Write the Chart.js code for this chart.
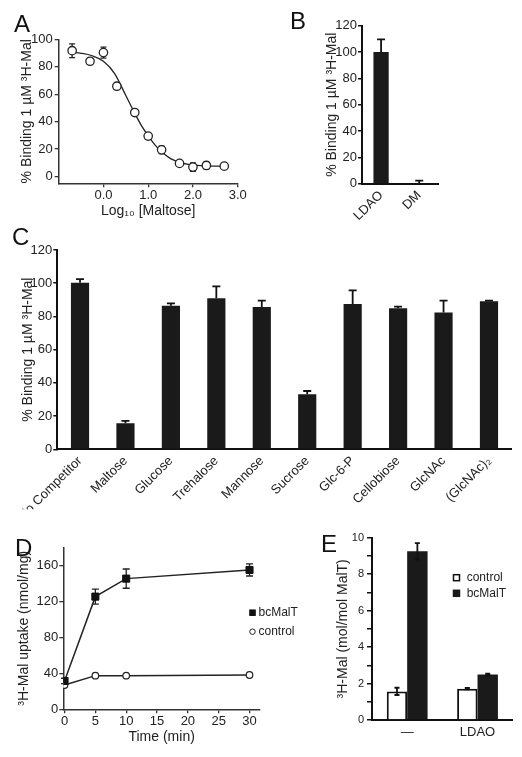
<!DOCTYPE html>
<html>
<head>
<meta charset="utf-8">
<script src="https://cdn.jsdelivr.net/npm/chart.js@4/dist/chart.umd.min.js"></script>
<style>
html,body{margin:0;padding:0;background:#fff;}
#wrap{position:relative;width:522px;height:757px;overflow:hidden;background:#fff;}
#wrap canvas{position:absolute;left:0;top:0;}
.lt{position:absolute;font-family:"Liberation Sans",Arial,Helvetica,sans-serif;font-size:24px;line-height:24px;color:#111;}
</style>
</head>
<body>
<div id="wrap">
<canvas id="cA" width="522" height="757"></canvas>
<canvas id="cB" width="522" height="757"></canvas>
<canvas id="cC" width="522" height="757"></canvas>
<canvas id="cD" width="522" height="757"></canvas>
<canvas id="cE" width="522" height="757"></canvas>
<div class="lt" style="left:14px;top:12px">A</div>
<div class="lt" style="left:290px;top:9px">B</div>
<div class="lt" style="left:12px;top:225px">C</div>
<div class="lt" style="left:15px;top:536px">D</div>
<div class="lt" style="left:321px;top:532px">E</div>
</div>
<script>
// ---------- Panel A ----------
const logMaltose = [-0.7, -0.3, 0.0, 0.3, 0.7, 1.0, 1.3, 1.7, 2.0, 2.3, 2.7];
const bindingA = [91.7, 84, 90.3, 65.8, 46.6, 29.4, 19.4, 9.5, 6.8, 8, 7.5];
const bindingAErr = [5, 2, 4, 1, 1, 2, 2.7, 1, 3, 2.4, 1];
const fitLogX = [-0.7, -0.5, -0.25, 0.0, 0.25, 0.5, 0.7, 0.85, 1.0, 1.15, 1.3, 1.5, 1.7, 1.9, 2.2, 2.7];
const fitBinding = [90.5, 89.8, 88, 84, 75, 59, 46, 37, 29.5, 23, 18, 13, 10.3, 8.8, 7.9, 7.4];
const yTicksA = [0, 20, 40, 60, 80, 100];
const xTicksA = [0, 1, 2, 3];
const xTickLabelsA = ['0.0', '1.0', '2.0', '3.0'];

// ---------- Panel B ----------
const detergentsB = ['LDAO', 'DM'];
const bindingB = [100, 0.5];
const bindingBErr = [9.6, 1.8];
const yTicksB = [0, 20, 40, 60, 80, 100, 120];

// ---------- Panel C ----------
const competitorsC = ['No Competitor', 'Maltose', 'Glucose', 'Trehalose', 'Mannose', 'Sucrose', 'Glc-6-P', 'Cellobiose', 'GlcNAc', '(GlcNAc)\u2082'];
const bindingC = [100.3, 15.7, 86.5, 90.9, 85.7, 33.1, 87.5, 84.9, 82.3, 89.1];
const bindingCErr = [2.2, 1.4, 1.4, 7.2, 3.8, 2.0, 8.2, 1.0, 7.2, 0.4];
const yTicksC = [0, 20, 40, 60, 80, 100, 120];

// ---------- Panel D ----------
const timeMin = [0, 5, 10, 30];
const uptakeBcMalT = [31.5, 125.2, 145.2, 154.8];
const uptakeBcMalTErr = [3, 8.3, 10.7, 6.7];
const uptakeControl = [27, 37.4, 37.4, 38.1];
const uptakeControlErr = [0, 0, 0, 0];
const yTicksD = [0, 40, 80, 120, 160];
const xTicksD = [0, 5, 10, 15, 20, 25, 30];

// ---------- Panel E ----------
const conditionsE = ['\u2014', 'LDAO'];
const malControl = [1.57, 1.72];
const malControlErr = [0.2, 0.04];
const malBcMalT = [9.25, 2.49];
const malBcMalTErr = [0.45, 0.05];
const yTicksE = [0, 1, 2, 3, 4, 5, 6, 7, 8, 9, 10];
const yTickLabelsE = ['0', '', '2', '', '4', '', '6', '', '8', '', '10'];

// ---------- helpers ----------
const FONT = '"Liberation Sans", Arial, Helvetica, sans-serif';
const INK = '#222';
const W = 522, H = 757;

const errorBars = {
  id: 'errorBars',
  defaults: { after: true, up: false, cap: 4, width: 1.5, color: '#111' },
  beforeDatasetsDraw(chart, args, o) { if (!o.after) drawErr(chart, o); },
  afterDatasetsDraw(chart, args, o) { if (o.after) drawErr(chart, o); }
};
function drawErr(chart, o) {
  const ctx = chart.ctx;
  chart.data.datasets.forEach((ds, di) => {
    if (!ds.errors) return;
    const meta = chart.getDatasetMeta(di);
    const ys = chart.scales[meta.yAxisID];
    ctx.save();
    ctx.strokeStyle = o.color;
    ctx.lineWidth = o.width;
    meta.data.forEach((el, i) => {
      const e = ds.errors[i];
      if (!e) return;
      const raw = ds.data[i];
      const v = (typeof raw === 'object') ? raw.y : raw;
      const x = el.x;
      const yT = ys.getPixelForValue(v + e);
      const yB = o.up ? ys.getPixelForValue(v) : ys.getPixelForValue(v - e);
      const c = o.cap;
      ctx.beginPath();
      ctx.moveTo(x, yT); ctx.lineTo(x, yB);
      ctx.moveTo(x - c, yT); ctx.lineTo(x + c, yT);
      if (!o.up) { ctx.moveTo(x - c, yB); ctx.lineTo(x + c, yB); }
      ctx.stroke();
    });
    ctx.restore();
  });
}

const miniLegend = {
  id: 'miniLegend',
  defaults: { show: false },
  afterDraw(chart, args, o) {
    if (!o.show) return;
    const ctx = chart.ctx;
    ctx.save();
    ctx.font = o.size + 'px ' + FONT;
    ctx.textBaseline = 'middle';
    ctx.textAlign = 'left';
    chart.data.datasets.forEach((ds, k) => {
      const y = o.y + k * o.gap;
      const s = o.marker;
      const fill = ds.pointBackgroundColor || ds.backgroundColor;
      const stroke = ds.pointBorderColor || ds.borderColor;
      ctx.lineWidth = o.markerLine;
      ctx.fillStyle = fill;
      ctx.strokeStyle = stroke;
      if (ds.pointStyle === 'circle') {
        ctx.beginPath(); ctx.arc(o.x, y, s / 2, 0, Math.PI * 2); ctx.fill(); ctx.stroke();
      } else {
        ctx.fillRect(o.x - s / 2, y - s / 2, s, s);
        ctx.strokeRect(o.x - s / 2, y - s / 2, s, s);
      }
      ctx.fillStyle = INK;
      ctx.fillText(ds.label, o.textX, y);
    });
    ctx.restore();
  }
};
Chart.register(errorBars, miniLegend);

function pad(area, yW, xH) {
  return { left: area.l - yW, top: area.t, right: W - area.r, bottom: H - area.b - xH };
}
function yAxis(o) {
  const lh = o.titleSize * 1.2;
  return {
    type: 'linear', position: 'left', min: o.min, max: o.max,
    afterBuildTicks: s => { s.ticks = o.ticks.map(v => ({ value: v })); },
    afterFit: s => { s.width = o.width; },
    ticks: { font: { family: FONT, size: o.tickSize }, color: INK, padding: o.pad, callback: o.cb || (v => String(v)) },
    grid: { display: true, drawOnChartArea: false, drawTicks: true, tickLength: o.tl, color: o.line, lineWidth: o.lw },
    border: { display: true, color: o.line, width: o.bw },
    title: { display: true, text: o.title, font: { family: FONT, size: o.titleSize }, color: INK,
             padding: { top: o.titleX - (o.areaL - o.width) - lh / 2, bottom: 0 } }
  };
}
const base = {
  responsive: false, animation: false, devicePixelRatio: 1,
  events: []
};

// ---------- Chart A ----------
const areaA = { l: 58.7, t: 39.3, r: 237.7, b: 183.3 };
new Chart(document.getElementById('cA'), {
  type: 'scatter',
  data: {
    datasets: [
      { label: 'binding', data: logMaltose.map((x, i) => ({ x: x, y: bindingA[i] })), errors: bindingAErr,
        pointStyle: 'circle', pointRadius: 4.2, pointBorderWidth: 1.3, pointBackgroundColor: '#fff',
        pointBorderColor: '#222', showLine: false },
      { label: 'fit', data: fitLogX.map((x, i) => ({ x: x, y: fitBinding[i] })), showLine: true,
        pointRadius: 0, borderColor: '#222', borderWidth: 1.3, cubicInterpolationMode: 'monotone', fill: false }
    ]
  },
  options: Object.assign({}, base, {
    layout: { padding: pad(areaA, 58.7, 40) },
    plugins: { legend: { display: false }, tooltip: { enabled: false },
               errorBars: { after: false, cap: 3, width: 1.3, color: '#222' } },
    scales: {
      x: {
        type: 'linear', position: 'bottom', min: -1, max: 3,
        afterBuildTicks: s => { s.ticks = xTicksA.map(v => ({ value: v })); },
        afterFit: s => { s.height = 40; },
        ticks: { font: { family: FONT, size: 13 }, color: INK, padding: 0,
                 callback: v => xTickLabelsA[xTicksA.indexOf(v)] },
        grid: { display: true, drawOnChartArea: false, drawTicks: true, tickLength: 4, color: '#333', lineWidth: 1.3 },
        border: { display: true, color: '#333', width: 1.5 },
        title: { display: true, text: 'Log\u2081\u2080 [Maltose]', font: { family: FONT, size: 14 }, color: INK,
                 padding: { top: 0, bottom: (183.3 + 40) - 211 - 8.4 } }
      },
      y: yAxis({ min: -5, max: 100, ticks: yTicksA, width: 58.7, areaL: 58.7, tickSize: 13, pad: 2, tl: 4,
                 line: '#333', lw: 1.3, bw: 1.5, title: '% Binding 1 \u00b5M \u00b3H-Mal', titleSize: 14, titleX: 26.7 })
    }
  })
});

// ---------- Chart B ----------
const areaB = { l: 362, t: 25.7, r: 438.3, b: 183.7 };
new Chart(document.getElementById('cB'), {
  type: 'bar',
  data: {
    labels: detergentsB,
    datasets: [{ label: 'binding', data: bindingB, errors: bindingBErr, backgroundColor: '#1a1a1a',
                 borderWidth: 0, barPercentage: 0.4, categoryPercentage: 1 }]
  },
  options: Object.assign({}, base, {
    layout: { padding: pad(areaB, 45, 40) },
    plugins: { legend: { display: false }, tooltip: { enabled: false },
               errorBars: { after: true, up: true, cap: 4, width: 1.8, color: '#111' } },
    scales: {
      x: {
        type: 'category', position: 'bottom',
        afterFit: s => { s.height = 40; },
        ticks: { font: { family: FONT, size: 13 }, color: INK, padding: 4, minRotation: 45, maxRotation: 45, autoSkip: false },
        grid: { display: false, drawTicks: false },
        border: { display: true, color: '#111', width: 2 }
      },
      y: yAxis({ min: 0, max: 120, ticks: yTicksB, width: 45, areaL: 362, tickSize: 13, pad: 1, tl: 4,
                 line: '#111', lw: 1.5, bw: 2, title: '% Binding 1 \u00b5M \u00b3H-Mal', titleSize: 14, titleX: 331.7 })
    }
  })
});

// ---------- Chart C ----------
const areaC = { l: 57.3, t: 250, r: 511.7, b: 449.3 };
new Chart(document.getElementById('cC'), {
  type: 'bar',
  data: {
    labels: competitorsC,
    datasets: [{ label: 'binding', data: bindingC, errors: bindingCErr, backgroundColor: '#1a1a1a',
                 borderWidth: 0, barPercentage: 0.4, categoryPercentage: 1 }]
  },
  options: Object.assign({}, base, {
    layout: { padding: pad(areaC, 57.3, 60) },
    plugins: { legend: { display: false }, tooltip: { enabled: false },
               errorBars: { after: true, up: true, cap: 4, width: 1.8, color: '#111' } },
    scales: {
      x: {
        type: 'category', position: 'bottom',
        afterFit: s => { s.height = 60; },
        ticks: { font: { family: FONT, size: 13 }, color: INK, padding: 4, minRotation: 45, maxRotation: 45, autoSkip: false },
        grid: { display: false, drawTicks: false },
        border: { display: true, color: '#111', width: 2 }
      },
      y: yAxis({ min: 0, max: 120, ticks: yTicksC, width: 57.3, areaL: 57.3, tickSize: 13, pad: 1, tl: 4,
                 line: '#111', lw: 1.5, bw: 2, title: '% Binding 1 \u00b5M \u00b3H-Mal', titleSize: 14, titleX: 28.3 })
    }
  })
});

// ---------- Chart D ----------
const areaD = { l: 63.3, t: 547.3, r: 260, b: 709.3 };
new Chart(document.getElementById('cD'), {
  type: 'scatter',
  data: {
    datasets: [
      { label: 'bcMalT', data: timeMin.map((t, i) => ({ x: t, y: uptakeBcMalT[i] })), errors: uptakeBcMalTErr,
        showLine: true, pointStyle: 'rect', pointRadius: 5, pointBackgroundColor: '#111', pointBorderColor: '#111',
        pointBorderWidth: 1, borderColor: '#222', borderWidth: 1.5 },
      { label: 'control', data: timeMin.map((t, i) => ({ x: t, y: uptakeControl[i] })), errors: uptakeControlErr,
        showLine: true, pointStyle: 'circle', pointRadius: 3.3, pointBackgroundColor: '#fff', pointBorderColor: '#222',
        pointBorderWidth: 1.2, borderColor: '#222', borderWidth: 1.5 }
    ]
  },
  options: Object.assign({}, base, {
    layout: { padding: pad(areaD, 63.3, 47.7) },
    plugins: { legend: { display: false }, tooltip: { enabled: false },
               errorBars: { after: false, cap: 3.5, width: 1.3, color: '#222' },
               miniLegend: { show: true, x: 252.5, textX: 258.5, y: 612.7, gap: 19, size: 12, marker: 5.5, markerLine: 1 } },
    scales: {
      x: {
        type: 'linear', position: 'bottom', min: -0.2, max: 31.7,
        afterBuildTicks: s => { s.ticks = xTicksD.map(v => ({ value: v })); },
        afterFit: s => { s.height = 47.7; },
        ticks: { font: { family: FONT, size: 13 }, color: INK, padding: 0 },
        grid: { display: true, drawOnChartArea: false, drawTicks: true, tickLength: 4, color: '#333', lineWidth: 1.3 },
        border: { display: true, color: '#333', width: 1.5 },
        title: { display: true, text: 'Time (min)', font: { family: FONT, size: 14 }, color: INK,
                 padding: { top: 0, bottom: 757 - 736.7 - 8.4 } }
      },
      y: yAxis({ min: 0, max: 180, ticks: yTicksD, width: 63.3, areaL: 63.3, tickSize: 13, pad: 1, tl: 4,
                 line: '#333', lw: 1.3, bw: 1.5, title: '\u00b3H-Mal uptake (nmol/mg)', titleSize: 14, titleX: 23.7 })
    }
  })
});

// ---------- Chart E ----------
const areaE = { l: 372, t: 537.7, r: 512.7, b: 720 };
new Chart(document.getElementById('cE'), {
  type: 'bar',
  data: {
    labels: conditionsE,
    datasets: [
      { label: 'control', data: malControl, errors: malControlErr, backgroundColor: '#fff', borderColor: '#111',
        borderWidth: 2, barPercentage: 1, categoryPercentage: 0.58 },
      { label: 'bcMalT', data: malBcMalT, errors: malBcMalTErr, backgroundColor: '#1a1a1a', borderColor: '#1a1a1a',
        borderWidth: 0, barPercentage: 1, categoryPercentage: 0.58 }
    ]
  },
  options: Object.assign({}, base, {
    layout: { padding: pad(areaE, 50, 30) },
    plugins: { legend: { display: false }, tooltip: { enabled: false },
               errorBars: { after: true, cap: 2.5, width: 1.8, color: '#111' },
               miniLegend: { show: true, x: 456.5, textX: 466.7, y: 577.7, gap: 15.6, size: 12, marker: 6, markerLine: 1.5 } },
    scales: {
      x: {
        type: 'category', position: 'bottom',
        afterFit: s => { s.height = 30; },
        ticks: { font: { family: FONT, size: 13 }, color: INK, padding: 5, maxRotation: 0, autoSkip: false },
        grid: { display: false, drawTicks: false },
        border: { display: true, color: '#111', width: 2 }
      },
      y: yAxis({ min: 0, max: 10, ticks: yTicksE, width: 50, areaL: 372, tickSize: 11, pad: 3, tl: 5,
                 line: '#111', lw: 1.5, bw: 2, title: '\u00b3H-Mal (mol/mol MalT)', titleSize: 14, titleX: 343.3,
                 cb: (v, i) => yTickLabelsE[i] })
    }
  })
});
</script>
</body>
</html>
